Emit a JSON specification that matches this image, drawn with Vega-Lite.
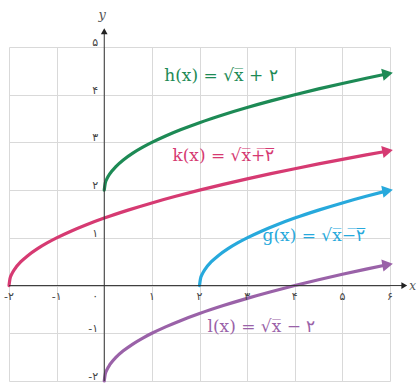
{
  "$schema": "https://vega.github.io/schema/vega-lite/v6.json",
  "width": 381,
  "height": 334,
  "autosize": "none",
  "padding": {"left": 9, "top": 47, "right": 29, "bottom": 4},
  "background": "white",
  "config": {"view": {"stroke": null}},
  "datasets": {
    "curves": [
      {"fn": "h", "x": 0, "y": 2}, {"fn": "h", "x": 0.02, "y": 2.1414}, {"fn": "h", "x": 0.06, "y": 2.2449}, {"fn": "h", "x": 0.12, "y": 2.3464}, {"fn": "h", "x": 0.25, "y": 2.5}, {"fn": "h", "x": 0.4, "y": 2.6325}, {"fn": "h", "x": 0.6, "y": 2.7746}, {"fn": "h", "x": 0.8, "y": 2.8944}, {"fn": "h", "x": 1, "y": 3}, {"fn": "h", "x": 1.3, "y": 3.1402}, {"fn": "h", "x": 1.6, "y": 3.2649}, {"fn": "h", "x": 2, "y": 3.4142}, {"fn": "h", "x": 2.5, "y": 3.5811}, {"fn": "h", "x": 3, "y": 3.7321}, {"fn": "h", "x": 3.5, "y": 3.8708}, {"fn": "h", "x": 4, "y": 4}, {"fn": "h", "x": 4.5, "y": 4.1213}, {"fn": "h", "x": 5, "y": 4.2361}, {"fn": "h", "x": 5.5, "y": 4.3452}, {"fn": "h", "x": 5.9, "y": 4.429},
      {"fn": "l", "x": 0, "y": -2}, {"fn": "l", "x": 0.02, "y": -1.8586}, {"fn": "l", "x": 0.06, "y": -1.7551}, {"fn": "l", "x": 0.12, "y": -1.6536}, {"fn": "l", "x": 0.25, "y": -1.5}, {"fn": "l", "x": 0.4, "y": -1.3675}, {"fn": "l", "x": 0.6, "y": -1.2254}, {"fn": "l", "x": 0.8, "y": -1.1056}, {"fn": "l", "x": 1, "y": -1}, {"fn": "l", "x": 1.3, "y": -0.8598}, {"fn": "l", "x": 1.6, "y": -0.7351}, {"fn": "l", "x": 2, "y": -0.5858}, {"fn": "l", "x": 2.5, "y": -0.4189}, {"fn": "l", "x": 3, "y": -0.2679}, {"fn": "l", "x": 3.5, "y": -0.1292}, {"fn": "l", "x": 4, "y": 0}, {"fn": "l", "x": 4.5, "y": 0.1213}, {"fn": "l", "x": 5, "y": 0.2361}, {"fn": "l", "x": 5.5, "y": 0.3452}, {"fn": "l", "x": 5.9, "y": 0.429},
      {"fn": "k", "x": -2, "y": 0}, {"fn": "k", "x": -1.98, "y": 0.1414}, {"fn": "k", "x": -1.94, "y": 0.2449}, {"fn": "k", "x": -1.88, "y": 0.3464}, {"fn": "k", "x": -1.75, "y": 0.5}, {"fn": "k", "x": -1.6, "y": 0.6325}, {"fn": "k", "x": -1.4, "y": 0.7746}, {"fn": "k", "x": -1.2, "y": 0.8944}, {"fn": "k", "x": -1, "y": 1}, {"fn": "k", "x": -0.7, "y": 1.1402}, {"fn": "k", "x": -0.4, "y": 1.2649}, {"fn": "k", "x": 0, "y": 1.4142}, {"fn": "k", "x": 0.5, "y": 1.5811}, {"fn": "k", "x": 1, "y": 1.7321}, {"fn": "k", "x": 1.5, "y": 1.8708}, {"fn": "k", "x": 2, "y": 2}, {"fn": "k", "x": 2.5, "y": 2.1213}, {"fn": "k", "x": 3, "y": 2.2361}, {"fn": "k", "x": 3.5, "y": 2.3452}, {"fn": "k", "x": 4, "y": 2.4495}, {"fn": "k", "x": 4.5, "y": 2.5495}, {"fn": "k", "x": 5, "y": 2.6458}, {"fn": "k", "x": 5.5, "y": 2.7386}, {"fn": "k", "x": 5.9, "y": 2.8107},
      {"fn": "g", "x": 2, "y": 0}, {"fn": "g", "x": 2.02, "y": 0.1414}, {"fn": "g", "x": 2.06, "y": 0.2449}, {"fn": "g", "x": 2.12, "y": 0.3464}, {"fn": "g", "x": 2.25, "y": 0.5}, {"fn": "g", "x": 2.4, "y": 0.6325}, {"fn": "g", "x": 2.6, "y": 0.7746}, {"fn": "g", "x": 2.8, "y": 0.8944}, {"fn": "g", "x": 3, "y": 1}, {"fn": "g", "x": 3.3, "y": 1.1402}, {"fn": "g", "x": 3.6, "y": 1.2649}, {"fn": "g", "x": 4, "y": 1.4142}, {"fn": "g", "x": 4.5, "y": 1.5811}, {"fn": "g", "x": 5, "y": 1.7321}, {"fn": "g", "x": 5.5, "y": 1.8708}, {"fn": "g", "x": 5.9, "y": 1.9748}
    ],
    "arrows": [
      {"fn": "h", "x": 5.95, "y": 4.439},
      {"fn": "k", "x": 5.95, "y": 2.819},
      {"fn": "g", "x": 5.95, "y": 1.987},
      {"fn": "l", "x": 5.95, "y": 0.439}
    ],
    "labels": [
      {"fn": "h", "x": 2.45, "y": 4.4, "text": "h(x) = √x̅ + ۲"},
      {"fn": "k", "x": 2.5, "y": 2.72, "text": "k(x) = √x̅+̅۲̅"},
      {"fn": "g", "x": 4.4, "y": 1.03, "text": "g(x) = √x̅−̅۲̅"},
      {"fn": "l", "x": 3.3, "y": -0.86, "text": "l(x) = √x̅ − ۲"}
    ],
    "xticks": [
      {"v": -2, "t": "-۲"}, {"v": -1, "t": "-۱"}, {"v": 1, "t": "۱"}, {"v": 2, "t": "۲"}, {"v": 3, "t": "۳"}, {"v": 4, "t": "۴"}, {"v": 5, "t": "۵"}, {"v": 6, "t": "۶"}
    ],
    "yticks": [
      {"v": 5, "t": "۵"}, {"v": 4, "t": "۴"}, {"v": 3, "t": "۳"}, {"v": 2, "t": "۲"}, {"v": 1, "t": "۱"}, {"v": -1, "t": "-۱"}, {"v": -2, "t": "-۲"}
    ],
    "one": [{}]
  },
  "layer": [
    {
      "data": {"name": "curves"},
      "mark": {"type": "line", "strokeWidth": 3.2, "interpolate": "monotone", "strokeCap": "round"},
      "encoding": {
        "x": {"field": "x", "type": "quantitative", "scale": {"domain": [-2, 6], "nice": false, "zero": false},
          "axis": {"values": [-2, -1, 0, 1, 2, 3, 4, 5, 6], "labels": false, "ticks": false, "domain": false, "title": null, "grid": true, "gridColor": "#d9d9d9", "gridWidth": 1}},
        "y": {"field": "y", "type": "quantitative", "scale": {"domain": [-2, 5], "nice": false, "zero": false},
          "axis": {"values": [-2, -1, 0, 1, 2, 3, 4, 5], "labels": false, "ticks": false, "domain": false, "title": null, "grid": true, "gridColor": "#d9d9d9", "gridWidth": 1}},
        "color": {"field": "fn", "type": "nominal", "legend": null,
          "scale": {"domain": ["h", "k", "g", "l"], "range": ["#1d8a55", "#d63a72", "#27a9dc", "#9a62a8"]}},
        "detail": {"field": "fn"}
      }
    },
    {
      "data": {"name": "one"},
      "mark": {"type": "rule", "color": "#333333", "strokeWidth": 1},
      "encoding": {"x": {"datum": -2}, "x2": {"datum": 6.28}, "y": {"datum": 0}}
    },
    {
      "data": {"name": "one"},
      "mark": {"type": "rule", "color": "#333333", "strokeWidth": 1},
      "encoding": {"x": {"datum": 0}, "y": {"datum": -2}, "y2": {"datum": 5.3}}
    },
    {
      "data": {"name": "one"},
      "mark": {"type": "point", "shape": "triangle-right", "filled": true, "color": "#222222", "size": 45, "opacity": 1},
      "encoding": {"x": {"datum": 6.3}, "y": {"datum": 0}}
    },
    {
      "data": {"name": "one"},
      "mark": {"type": "point", "shape": "triangle-up", "filled": true, "color": "#222222", "size": 45, "opacity": 1},
      "encoding": {"x": {"datum": 0}, "y": {"datum": 5.33}}
    },
    {
      "data": {"name": "one"},
      "mark": {"type": "text", "text": "x", "font": "DejaVu Serif", "fontStyle": "italic", "fontSize": 12, "color": "#555555", "align": "left", "baseline": "middle", "dx": 5},
      "encoding": {"x": {"datum": 6.3}, "y": {"datum": 0}}
    },
    {
      "data": {"name": "one"},
      "mark": {"type": "text", "text": "y", "font": "DejaVu Serif", "fontStyle": "italic", "fontSize": 13, "color": "#555555", "align": "center", "baseline": "bottom", "dx": -2, "dy": -9},
      "encoding": {"x": {"datum": 0}, "y": {"datum": 5.33}}
    },
    {
      "data": {"name": "arrows"},
      "mark": {"type": "point", "shape": "triangle-right", "filled": true, "size": 150, "opacity": 1},
      "encoding": {
        "x": {"field": "x", "type": "quantitative"},
        "y": {"field": "y", "type": "quantitative"},
        "color": {"field": "fn", "type": "nominal", "legend": null},
        "angle": {"field": "fn", "type": "nominal", "legend": null,
          "scale": {"domain": ["h", "k", "g", "l"], "range": [348.5, 350, 346, 348.5]}}
      }
    },
    {
      "data": {"name": "labels"},
      "mark": {"type": "text", "font": "DejaVu Serif", "fontSize": 17, "align": "center", "baseline": "middle"},
      "encoding": {
        "x": {"field": "x", "type": "quantitative"},
        "y": {"field": "y", "type": "quantitative"},
        "text": {"field": "text"},
        "color": {"field": "fn", "type": "nominal", "legend": null}
      }
    },
    {
      "data": {"name": "xticks"},
      "mark": {"type": "text", "font": "DejaVu Sans", "fontSize": 11, "color": "#444444", "align": "center", "baseline": "middle", "dy": 11},
      "encoding": {
        "x": {"field": "v", "type": "quantitative"},
        "y": {"datum": 0},
        "text": {"field": "t"}
      }
    },
    {
      "data": {"name": "yticks"},
      "mark": {"type": "text", "font": "DejaVu Sans", "fontSize": 11, "color": "#444444", "align": "right", "baseline": "middle", "dx": -6, "dy": -4},
      "encoding": {
        "x": {"datum": 0},
        "y": {"field": "v", "type": "quantitative"},
        "text": {"field": "t"}
      }
    },
    {
      "data": {"name": "one"},
      "mark": {"type": "text", "text": "۰", "font": "DejaVu Sans", "fontSize": 11, "color": "#444444", "align": "right", "baseline": "middle", "dx": -6, "dy": 11},
      "encoding": {"x": {"datum": 0}, "y": {"datum": 0}}
    }
  ]
}
